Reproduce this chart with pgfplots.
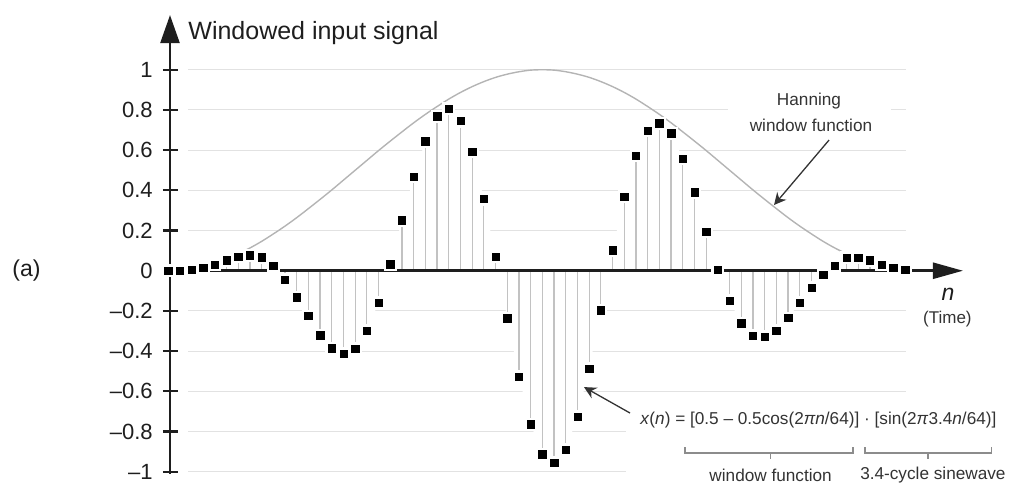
\documentclass[border=0pt]{standalone}
\usepackage{pgfplots}
\pgfplotsset{compat=1.18}
\usepackage{pgfplotstable}
\usepackage{fontspec}
\setmainfont{Liberation Sans}
\usetikzlibrary{arrows.meta}

\definecolor{gridc}{HTML}{E2E2E2}
\definecolor{stemc}{HTML}{C2C2C2}
\definecolor{hanc}{HTML}{B4B4B4}
\definecolor{txt}{HTML}{1E1E1E}
\definecolor{note}{HTML}{333333}
\definecolor{brk}{HTML}{8C8C8C}

% windowed samples
\pgfplotstableread{
n x
0 0
1 0.001
2 0.006
3 0.015
4 0.03
5 0.052
6 0.07
7 0.078
8 0.067
9 0.026
10 -0.045
11 -0.131
12 -0.225
13 -0.32
14 -0.386
15 -0.412
16 -0.387
17 -0.299
18 -0.158
19 0.032
20 0.252
21 0.467
22 0.645
23 0.768
24 0.807
25 0.745
26 0.593
27 0.357
28 0.069
29 -0.237
30 -0.527
31 -0.764
32 -0.912
33 -0.955
34 -0.89
35 -0.726
36 -0.486
37 -0.197
38 0.102
39 0.368
40 0.572
41 0.697
42 0.735
43 0.684
44 0.557
45 0.391
46 0.194
47 0.005
48 -0.148
49 -0.261
50 -0.324
51 -0.328
52 -0.297
53 -0.235
54 -0.158
55 -0.085
56 -0.021
57 0.025
58 0.064
59 0.066
60 0.052
61 0.03
62 0.015
63 0.005
}\samples

% hanning window envelope
\pgfplotstableread{
n w
6 0.084
7 0.113
8 0.146
9 0.183
10 0.222
11 0.264
12 0.309
13 0.355
14 0.402
15 0.451
16 0.5
17 0.549
18 0.598
19 0.645
20 0.691
21 0.736
22 0.778
23 0.817
24 0.854
25 0.887
26 0.916
27 0.941
28 0.962
29 0.978
30 0.990
31 0.998
32 1.0
33 0.998
34 0.990
35 0.978
36 0.962
37 0.941
38 0.916
39 0.887
40 0.854
41 0.817
42 0.778
43 0.736
44 0.691
45 0.645
46 0.598
47 0.549
48 0.5
49 0.451
50 0.402
51 0.355
52 0.309
53 0.264
54 0.222
55 0.183
56 0.146
57 0.113
58 0.084
}\hanning

\begin{document}
\begin{tikzpicture}
\begin{axis}[
    width=505pt, height=244pt, scale only axis,
    xmin=-14.36, xmax=71.97,
    ymin=-1.081, ymax=1.347,
    hide axis, clip=false
]
% grid
\pgfplotsinvokeforeach{1,0.6,0.4,0.2,-0.2,-0.4,-0.6}{
  \draw[gridc, line width=0.5pt] (axis cs:1.71,#1) -- (axis cs:63.1,#1);
}
\draw[gridc, line width=0.5pt] (axis cs:1.71,0.8) -- (axis cs:47.9,0.8);
\draw[gridc, line width=0.5pt] (axis cs:61.8,0.8) -- (axis cs:63.1,0.8);
\draw[gridc, line width=0.5pt] (axis cs:1.71,-0.8) -- (axis cs:39.15,-0.8);
\draw[gridc, line width=0.5pt] (axis cs:1.71,-1) -- (axis cs:39.15,-1);

% blank out grid between the stems
\addplot[draw=none, fill=white] table[x=n, y=x] {\samples} \closedcycle;

% window curve
\addplot[hanc, line width=0.7pt, smooth] table[x=n, y=w] {\hanning};

% stems
\addplot[ycomb, stemc, line width=0.6pt] table[x=n, y=x] {\samples};

% axes
\draw[txt, line width=1.25pt, -{Triangle[length=14pt,width=9.5pt]}]
  (axis cs:0.171,-1.01) -- (axis cs:0.171,1.272);
\pgfplotsinvokeforeach{-1,-0.8,-0.6,-0.4,-0.2,0.2,0.4,0.6,0.8,1}{
  \draw[txt, line width=1.1pt] (axis cs:-0.43,#1) -- (axis cs:0.86,#1);
}
\draw[txt, line width=1.25pt, -{Triangle[length=15pt,width=8pt]}]
  (axis cs:0.171,0) -- (axis cs:67.95,0);

% samples with a white halo
\addplot[only marks, mark=square*, mark size=3pt, white,
  mark options={draw=white, fill=white}] table[x=n, y=x] {\samples};
\addplot[only marks, mark=square*, mark size=1.85pt, black,
  mark options={draw=black, fill=black, line width=0.2pt}] table[x=n, y=x] {\samples};

% tick labels
\begin{scope}[every node/.style={anchor=east, text=txt, inner sep=0pt,
    font=\fontsize{11}{13}\selectfont}]
\node at (axis cs:-1.28,1) {1};
\node at (axis cs:-1.28,0.8) {0.8};
\node at (axis cs:-1.28,0.6) {0.6};
\node at (axis cs:-1.28,0.4) {0.4};
\node at (axis cs:-1.28,0.2) {0.2};
\node at (axis cs:-1.28,0) {0};
\node at (axis cs:-1.28,-0.2) {--0.2};
\node at (axis cs:-1.28,-0.4) {--0.4};
\node at (axis cs:-1.28,-0.6) {--0.6};
\node at (axis cs:-1.28,-0.8) {--0.8};
\node at (axis cs:-1.28,-1) {--1};
\end{scope}

% titles
\node[anchor=base west, inner sep=0pt, text=txt, font=\fontsize{12.5}{15}\selectfont]
  at (axis cs:1.71,1.148) {Windowed input signal};
\node[anchor=west, inner sep=0pt, text=txt, font=\fontsize{11.5}{14}\selectfont]
  at (axis cs:-13.33,0) {(a)};
\node[inner sep=0pt, text=txt, font=\fontsize{11.5}{14}\selectfont\itshape]
  at (axis cs:66.67,-0.116) {n};
\node[inner sep=0pt, text=note, font=\fontsize{8.5}{10}\selectfont]
  at (axis cs:66.62,-0.243) {(Time)};

% hanning note
\node[inner sep=0pt, text=note, font=\fontsize{8.6}{10}\selectfont]
  at (axis cs:54.79,0.844) {Hanning};
\node[inner sep=0pt, text=note, font=\fontsize{8.6}{10}\selectfont]
  at (axis cs:54.96,0.725) {window function};
\draw[note, line width=0.65pt, -{Stealth[length=6pt,width=6pt]}]
  (axis cs:56.5,0.65) -- (axis cs:51.8,0.327);

% formula note
\node[anchor=west, inner sep=0pt, text=note, font=\fontsize{8.6}{10}\selectfont]
  at (axis cs:40.34,-0.743)
  {\textit{x}(\textit{n}) = [0.5 -- 0.5cos(2\textit{πn}/64)] · [sin(2\textit{π}3.4\textit{n}/64)]};
\draw[note, line width=0.65pt, -{Stealth[length=6pt,width=6pt]}]
  (axis cs:39.49,-0.708) -- (axis cs:35.56,-0.579);

% brackets under the formula
\draw[brk, line width=0.6pt] (axis cs:44.19,-0.877) -- (axis cs:44.19,-0.907)
  -- (axis cs:58.55,-0.907) -- (axis cs:58.55,-0.877);
\draw[brk, line width=0.6pt] (axis cs:51.51,-0.907) -- (axis cs:51.51,-0.935);
\draw[brk, line width=0.6pt] (axis cs:59.57,-0.877) -- (axis cs:59.57,-0.907)
  -- (axis cs:70.4,-0.907) -- (axis cs:70.4,-0.877);
\draw[brk, line width=0.6pt] (axis cs:64.96,-0.907) -- (axis cs:64.96,-0.935);
\node[inner sep=0pt, text=note, font=\fontsize{8.6}{10}\selectfont]
  at (axis cs:51.51,-1.016) {window function};
\node[inner sep=0pt, text=note, font=\fontsize{8.6}{10}\selectfont]
  at (axis cs:65.38,-1.016) {3.4-cycle sinewave};
\end{axis}
\pgfresetboundingbox
\path[use as bounding box] (current axis.south west) rectangle (current axis.north east);
\end{tikzpicture}
\end{document}
